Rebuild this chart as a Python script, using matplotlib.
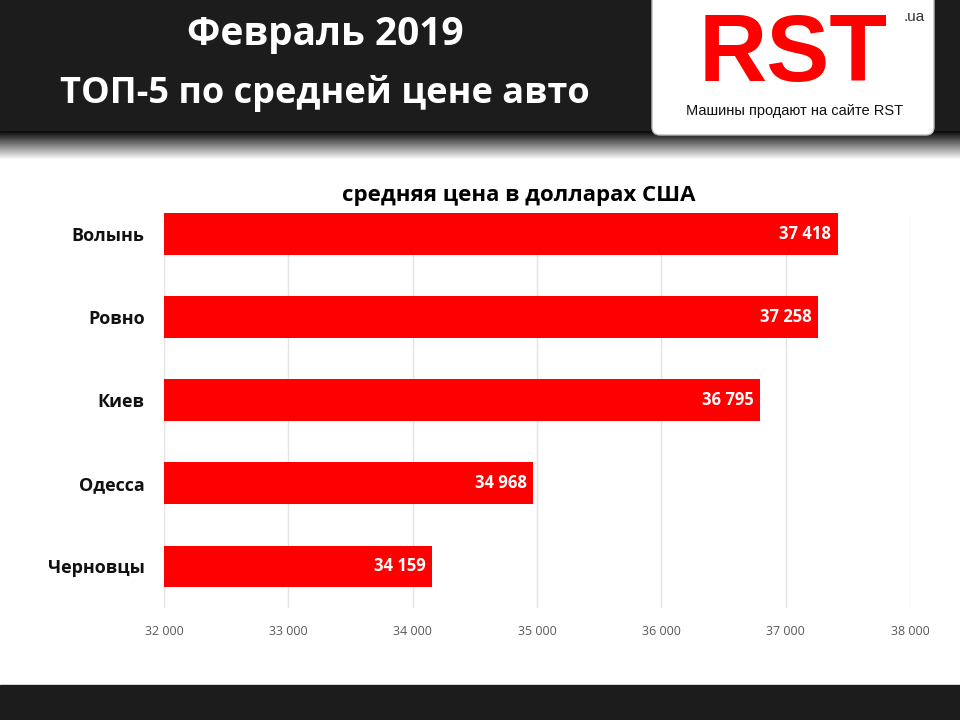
import matplotlib
matplotlib.use("Agg")
import matplotlib.pyplot as plt
from matplotlib.patches import FancyBboxPatch, Rectangle
import numpy as np

regions = ["Волынь", "Ровно", "Киев", "Одесса", "Черновцы"]
prices = [37418, 37258, 36795, 34968, 34159]
ticks = [32000, 33000, 34000, 35000, 36000, 37000, 38000]

plt.rcParams["font.family"] = "Open Sans"

fig = plt.figure(figsize=(9.6, 7.2), dpi=100)

# background: dark header, fade, dark footer
bg = fig.add_axes([0, 0, 1, 1], zorder=0)
bg.set_xlim(0, 960)
bg.set_ylim(720, 0)
bg.axis("off")
bg.add_patch(Rectangle((0, 0), 960, 130, color="#1c1c1c"))
grad = np.linspace(0, 1, 30).reshape(-1, 1)
bg.imshow(grad, extent=(0, 960, 160, 130), cmap="gray", vmin=0, vmax=1, aspect="auto")
bg.add_patch(Rectangle((0, 685), 960, 35, color="#1c1c1c"))

bg.text(325, 35, "Февраль 2019", ha="center", va="center",
        fontsize=28, fontweight="bold", color="white")
bg.text(325, 93, "ТОП-5 по средней цене авто", ha="center", va="center",
        fontsize=26, fontweight="bold", color="white")

# logo
bg.add_patch(FancyBboxPatch((652, -10), 282, 145, boxstyle="round,pad=0,rounding_size=8",
                            facecolor="white", edgecolor="#bbbbbb", linewidth=1))
bg.text(793, 56, "RST", ha="center", va="center", fontsize=68, fontweight="bold",
        color="#ff0000", family="Liberation Sans")
bg.text(925, 17, ".ua", ha="right", va="center", fontsize=11, color="#333333",
        family="Liberation Sans")
bg.text(795, 111, "Машины продают на сайте RST", ha="center", va="center",
        fontsize=10.5, color="#111111", family="Liberation Sans")

ax = fig.add_axes([164 / 960, 1 - 608 / 720, 746 / 960, 395 / 720], zorder=1)
ax.patch.set_alpha(0)
n = len(regions)
y = np.arange(n)
ax.barh(y, prices, height=0.5, color="#ff0000", zorder=2)
for yi, v in zip(y, prices):
    ax.text(v - 50, yi, f"{v:,}".replace(",", " "), ha="right", va="center",
            color="white", fontsize=12, fontweight="bold", zorder=3)
ax.set_xlim(32000, 38000)
ax.set_ylim(n - 0.5, -0.25)
ax.set_xticks(ticks)
ax.set_xticklabels([f"{t:,}".replace(",", " ") for t in ticks], fontsize=9, color="#595959")
ax.set_yticks(y)
ax.set_yticklabels(regions, fontsize=13, fontweight="bold", color="#111111")
ax.tick_params(length=0, pad=12)
ax.tick_params(axis="y", pad=14)
ax.grid(axis="x", color="#e3e3e3", linewidth=1, zorder=0)
for s in ax.spines.values():
    s.set_visible(False)

fig.text(519 / 960, 1 - 195 / 720, "средняя цена в долларах США", ha="center", va="center",
         fontsize=16, fontweight="bold", color="black")

fig.savefig("out.png", dpi=100)
